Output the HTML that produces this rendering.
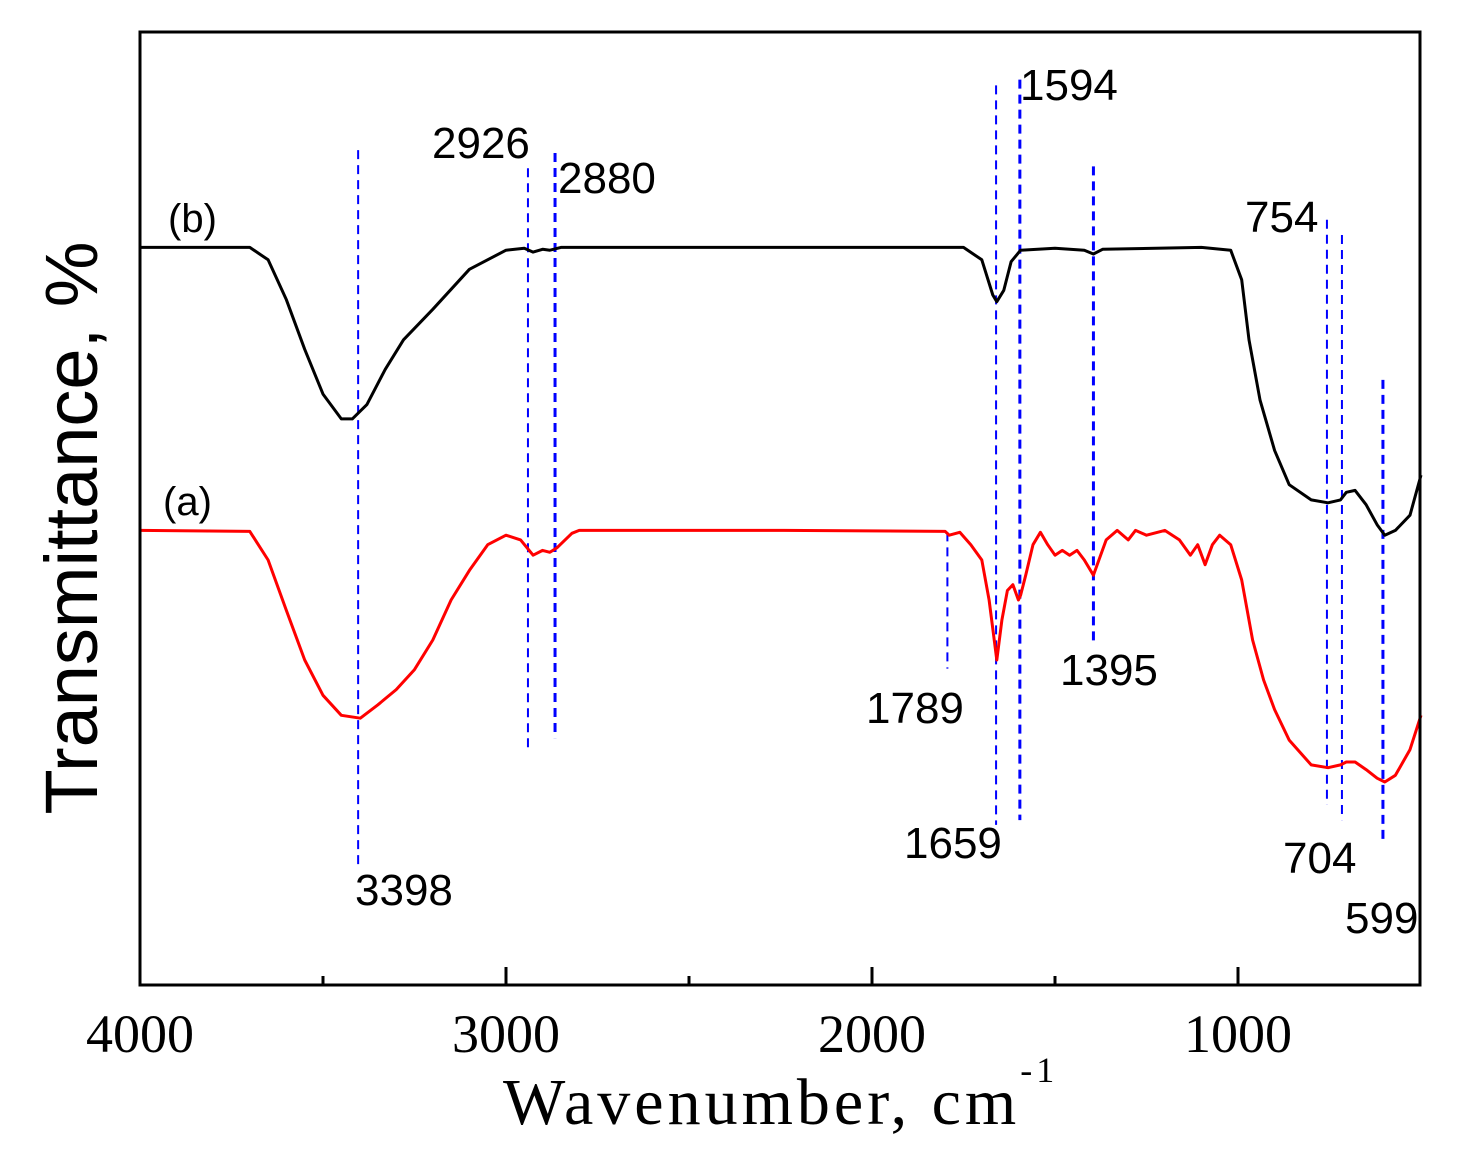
<!DOCTYPE html>
<html><head><meta charset="utf-8"><style>
html,body{margin:0;padding:0;background:#fff;}
svg{display:block;}
</style></head><body>
<svg id="chart" width="1458" height="1160" viewBox="0 0 1458 1160" xmlns="http://www.w3.org/2000/svg">
<g id="plot"></g>
<text transform="translate(97,528) rotate(-90)" text-anchor="middle" font-family="Liberation Sans, sans-serif" font-size="74">Transmittance, %</text>
<text x="503" y="1124" font-family="Liberation Serif, serif" font-size="66" letter-spacing="4">Wavenumber, cm<tspan font-size="36" dy="-42">-1</tspan></text>
</svg>
<script>
const xTicks=[4000,3000,2000,1000];
const xMinor=[3500,2500,1500,500];
const wnB=[4000,3700,3650,3600,3550,3500,3450,3420,3380,3330,3280,3200,3100,3000,2950,2926,2900,2880,2850,2000,1750,1700,1670,1659,1640,1620,1594,1500,1420,1395,1370,1100,1020,990,970,940,900,860,800,754,720,704,680,650,620,599,570,530,500];
const tB=[77.4,77.4,76.1,71.9,66.7,62.0,59.4,59.4,60.9,64.6,67.7,70.9,75.1,77.1,77.3,76.9,77.2,77.1,77.4,77.4,77.4,76.1,72.4,71.7,72.9,75.9,77.1,77.3,77.1,76.7,77.2,77.4,77.1,74.0,67.7,61.4,56.1,52.5,50.9,50.6,50.9,51.7,51.9,50.4,48.3,47.2,47.7,49.3,53.5];
const wnA=[4000,3700,3650,3600,3550,3500,3450,3398,3350,3300,3250,3200,3150,3100,3050,3000,2960,2926,2900,2880,2860,2820,2800,2240,1800,1789,1760,1730,1700,1680,1659,1645,1630,1615,1600,1594,1580,1560,1540,1520,1500,1480,1460,1440,1420,1395,1380,1360,1330,1300,1280,1250,1200,1160,1130,1110,1090,1070,1050,1020,990,960,930,900,860,800,754,720,704,680,650,620,599,570,530,500];
const tA=[47.7,47.6,44.6,39.3,34.1,30.4,28.3,28.0,29.4,31.0,33.1,36.2,40.4,43.5,46.2,47.2,46.7,45.1,45.6,45.4,45.9,47.4,47.7,47.7,47.6,47.2,47.5,46.2,44.6,40.4,34.1,38.3,41.4,42.0,40.4,40.9,43.0,46.2,47.5,46.2,45.1,45.6,45.1,45.6,44.6,43.0,44.6,46.7,47.7,46.7,47.7,47.2,47.7,46.7,45.1,46.2,44.1,46.2,47.2,46.2,42.5,36.2,32.0,28.9,25.7,23.1,22.8,23.1,23.4,23.4,22.6,21.7,21.3,22.0,24.7,28.3];
const markWn=[3404,2940,2866,1794,1661,1596,1395,757,716,604];
const markTop=[87.6,85.7,87.3,47.5,94.4,95.0,85.9,80.3,78.7,63.5];
const markBot=[12.1,24.4,25.9,33.2,16.8,17.3,35.6,18.9,17.3,14.7];
const markLbl=["3398","2926","2880","1789","1659","1594","1395","754","704","599"];
const lblX=[355,432,558,866,904,1020,1060,1245,1283,1345];
const lblY=[905,158,193,723,858,100,685,232,873,933];
const L=140,R=1420,T=32,B=985;
const x=w=>L+(4000-w)*0.366;
const y=t=>B-t*(B-T)/100;
const NS="http://www.w3.org/2000/svg";
const plot=document.getElementById('plot');
function mk(tag,attrs){const e=document.createElementNS(NS,tag);for(const k in attrs)e.setAttribute(k,attrs[k]);plot.appendChild(e);return e;}
markWn.forEach((w,i)=>{
 const thick=["2880","1594","1395","599"].includes(markLbl[i]);
 const e=mk('line',{x1:x(w),x2:x(w),y1:y(markTop[i]),y2:y(markBot[i]),stroke:'#0000ff','stroke-width':thick?3:2,'stroke-dasharray':'9,6'});
 
 
 const t=mk('text',{x:lblX[i],y:lblY[i],'font-family':'Liberation Sans, sans-serif','font-size':'44'});
 t.textContent=markLbl[i];
 
 
});
function path(wn,tv,color,name){
 let d='';wn.forEach((w,i)=>{d+=(i?'L':'M')+x(w).toFixed(1)+','+y(tv[i]).toFixed(1);});
 const p=mk('path',{d:d,fill:'none',stroke:color,'stroke-width':3,'stroke-linejoin':'round'});
 
 
}
path(wnB,tB,'#000','series-b-line');
path(wnA,tA,'#ff0000','series-a-line');
const sb=mk('text',{x:168,y:232,'font-family':'Liberation Sans, sans-serif','font-size':'40'});sb.textContent='(b)';


const sa=mk('text',{x:163,y:515,'font-family':'Liberation Sans, sans-serif','font-size':'40'});sa.textContent='(a)';


const fr=mk('rect',{x:L,y:T,width:R-L,height:B-T,fill:'none',stroke:'#000','stroke-width':3});


xTicks.forEach(w=>{
 const l=mk('line',{x1:x(w),x2:x(w),y1:B,y2:B-18,stroke:'#000','stroke-width':3});
 
 
 const t=mk('text',{x:x(w),y:1052,'text-anchor':'middle','font-family':'Liberation Serif, serif','font-size':'54'});
 t.textContent=String(w);
 
 
});
xMinor.forEach(w=>{
 if(x(w)>R)return;
 const l=mk('line',{x1:x(w),x2:x(w),y1:B,y2:B-9,stroke:'#000','stroke-width':3});
 
 
});
</script>
</body></html>
